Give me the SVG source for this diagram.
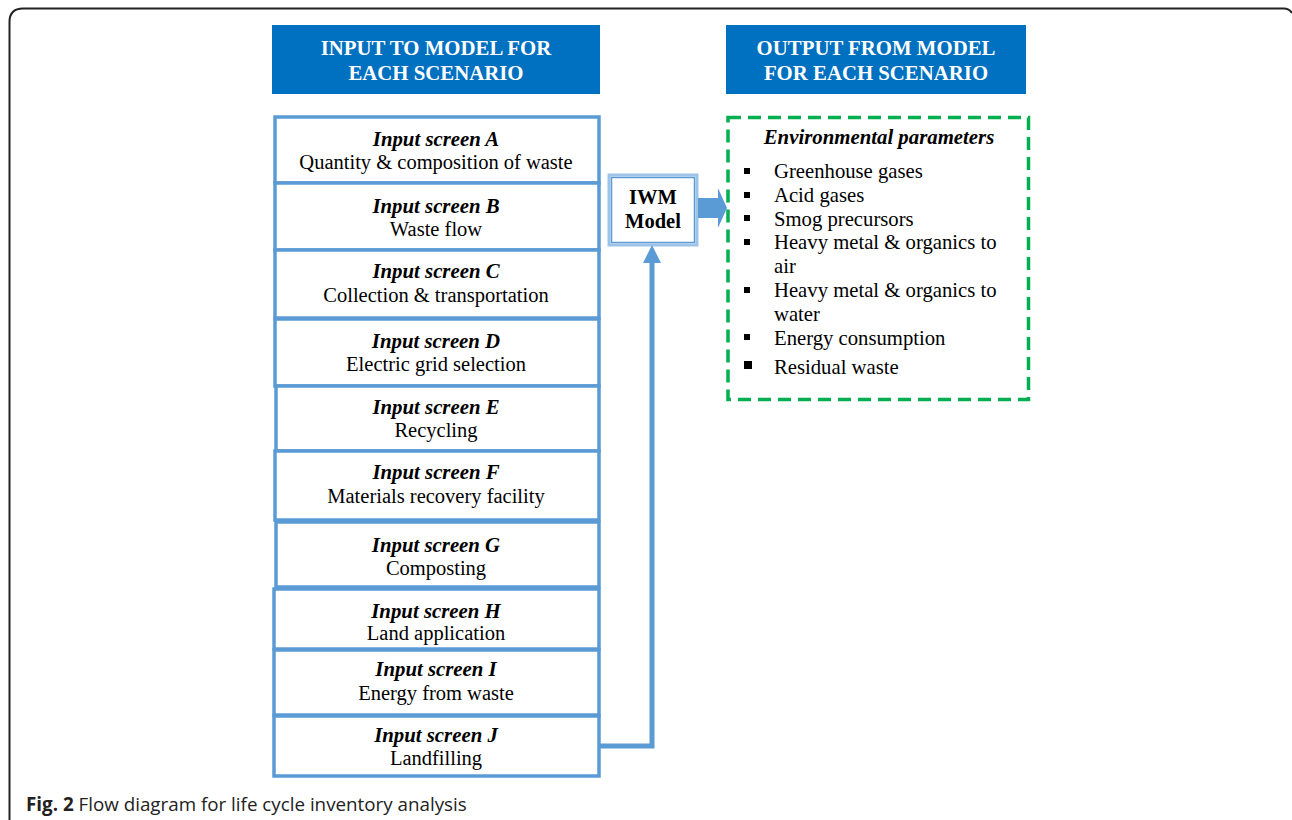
<svg xmlns="http://www.w3.org/2000/svg" width="1292" height="820" viewBox="0 0 1292 820">
<style>
.hdr{fill:#0070C0}
.hdrt{font-family:"Liberation Serif",serif;font-weight:bold;font-size:20.8px;fill:#fff;text-anchor:middle}
.box{fill:#fff;stroke:#5B9BD5;stroke-width:3.5}
.t1{font-family:"Liberation Serif",serif;font-weight:bold;font-style:italic;font-size:20.8px;fill:#000;text-anchor:middle}
.t2{font-family:"Liberation Serif",serif;font-size:20.5px;fill:#000;text-anchor:middle}
.li{font-family:"Liberation Serif",serif;font-size:20.7px;fill:#000}
.bul{fill:#000}
.conn{fill:none;stroke:#5B9BD5;stroke-width:5}
</style>
<rect width="1292" height="820" fill="#fff"/>
<path d="M9.5 820 V22 Q9.5 8.5 23 8.5 H1284 Q1289 8.5 1292 13" fill="none" stroke="#222" stroke-width="2"/>

<g id="hdr-input">
<rect class="hdr" x="272" y="25" width="328" height="69"/>
<text class="hdrt" x="436" y="55">INPUT TO MODEL FOR</text>
<text class="hdrt" x="436" y="80">EACH SCENARIO</text>
</g>
<g id="hdr-output">
<rect class="hdr" x="726" y="25" width="300" height="69"/>
<text class="hdrt" x="876" y="55">OUTPUT FROM MODEL</text>
<text class="hdrt" x="876" y="80">FOR EACH SCENARIO</text>
</g>

<g id="screenA"><rect class="box" x="275" y="117" width="324" height="66"/>
<text class="t1" x="436" y="146">Input screen A</text><text class="t2" x="436" y="169">Quantity &amp; composition of waste</text></g>
<g id="screenB"><rect class="box" x="275" y="183" width="324" height="67"/>
<text class="t1" x="436" y="213">Input screen B</text><text class="t2" x="436" y="236">Waste flow</text></g>
<g id="screenC"><rect class="box" x="275" y="250" width="324" height="68"/>
<text class="t1" x="436" y="278">Input screen C</text><text class="t2" x="436" y="302">Collection &amp; transportation</text></g>
<g id="screenD"><rect class="box" x="275" y="319" width="324" height="67"/>
<text class="t1" x="436" y="348">Input screen D</text><text class="t2" x="436" y="371">Electric grid selection</text></g>
<g id="screenE"><rect class="box" x="276" y="386" width="323" height="65"/>
<text class="t1" x="436" y="414">Input screen E</text><text class="t2" x="436" y="437">Recycling</text></g>
<g id="screenF"><rect class="box" x="275" y="451" width="324" height="69"/>
<text class="t1" x="436" y="479">Input screen F</text><text class="t2" x="436" y="503">Materials recovery facility</text></g>
<g id="screenG"><rect class="box" x="276" y="522" width="323" height="65"/>
<text class="t1" x="436" y="552">Input screen G</text><text class="t2" x="436" y="575">Composting</text></g>
<g id="screenH"><rect class="box" x="274" y="589" width="325" height="60"/>
<text class="t1" x="436" y="618">Input screen H</text><text class="t2" x="436" y="640">Land application</text></g>
<g id="screenI"><rect class="box" x="274" y="650" width="325" height="65"/>
<text class="t1" x="436" y="676">Input screen I</text><text class="t2" x="436" y="700">Energy from waste</text></g>
<g id="screenJ"><rect class="box" x="274" y="716" width="325" height="60"/>
<text class="t1" x="436" y="742">Input screen J</text><text class="t2" x="436" y="765">Landfilling</text></g>

<g id="iwm">
<rect x="609" y="175" width="88" height="70" fill="#fff" stroke="#9DC3E6" stroke-width="3"/>
<rect x="611.5" y="177.5" width="83" height="65" fill="none" stroke="#5B9BD5" stroke-width="1.5"/>
<text class="t1" x="653" y="204" style="font-style:normal;font-size:20.5px">IWM</text>
<text class="t1" x="653" y="228" style="font-style:normal;font-size:20.5px">Model</text>
</g>

<g id="output">
<rect x="728" y="117.5" width="300.5" height="282" fill="none" stroke="#00B050" stroke-width="3.5" stroke-dasharray="13 7"/>
<text class="t1" x="879" y="144">Environmental parameters</text>
<rect class="bul" x="744" y="168" width="6" height="6"/>
<text class="li" x="774" y="178">Greenhouse gases</text>
<rect class="bul" x="744" y="192" width="6" height="6"/>
<text class="li" x="774" y="202">Acid gases</text>
<rect class="bul" x="744" y="215" width="6" height="6"/>
<text class="li" x="774" y="226">Smog precursors</text>
<rect class="bul" x="744" y="239" width="6" height="6"/>
<text class="li" x="774" y="249">Heavy metal &amp; organics to</text>
<text class="li" x="774" y="273">air</text>
<rect class="bul" x="744" y="287" width="6" height="6"/>
<text class="li" x="774" y="297">Heavy metal &amp; organics to</text>
<text class="li" x="774" y="321">water</text>
<rect class="bul" x="744" y="334" width="6" height="6"/>
<text class="li" x="774" y="345">Energy consumption</text>
<rect class="bul" x="744" y="361" width="8" height="8"/>
<text class="li" x="774" y="374">Residual waste</text>
</g>

<g id="connectors">
<path class="conn" d="M599 746 H652 V260"/>
<polygon points="652,245 643,263 661,263" fill="#5B9BD5"/>
<polygon points="698,198 718,198 718,188 727,208 718,228 718,218 698,218" fill="#5B9BD5"/>
</g>

<text x="26" y="811" style="font-family:'Open Sans',sans-serif;font-size:18.8px;fill:#222"><tspan font-weight="bold">Fig. 2</tspan> Flow diagram for life cycle inventory analysis</text>
</svg>
